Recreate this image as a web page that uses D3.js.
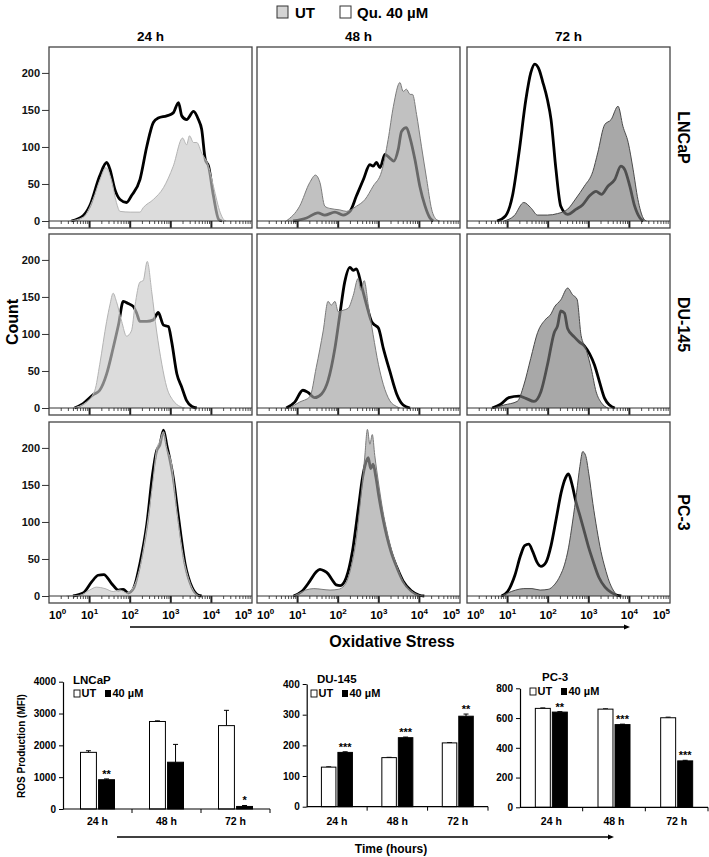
<!DOCTYPE html>
<html>
<head>
<meta charset="utf-8">
<script src="https://cdn.jsdelivr.net/npm/d3@7"></script>
<style>
  body { margin: 0; background: #fff; }
  text { font-family: 'Liberation Sans', Arial, sans-serif; }
</style>
</head>
<body>
<svg id="figure"></svg>
<script>
var width = 709;
var height = 857;

// ---------- data ----------
var timepoints = ["24 h", "48 h", "72 h"];
var cellLines = ["LNCaP", "DU-145", "PC-3"];
var countTicks = [0, 50, 100, 150, 200];
var decades = [0, 1, 2, 3, 4, 5];

// histogram curves: [log10 intensity, count]
var utLNCaP24 = [[0.51,0],[0.84,5],[1.09,30],[1.25,55],[1.40,72],[1.54,55],[1.66,25],[1.75,13],[2.0,12],[2.24,12],[2.32,18],[2.57,29],[2.82,45],[3.06,74],[3.29,112],[3.39,103],[3.46,115],[3.56,106],[3.64,106],[3.76,92],[3.93,74],[4.05,47],[4.22,11],[4.30,2],[4.36,0]];
var quLNCaP24 = [[0.55,0],[0.84,7],[1.00,20],[1.25,61],[1.42,79],[1.50,70],[1.62,43],[1.75,29],[1.91,25],[2.03,34],[2.24,56],[2.41,101],[2.57,133],[2.69,139],[2.90,142],[3.06,146],[3.19,160],[3.27,142],[3.39,137],[3.56,148],[3.68,137],[3.76,124],[3.85,83],[3.93,74],[4.05,34],[4.18,2],[4.26,0]];
var utLNCaP48 = [[0.72,0],[1.05,20],[1.30,52],[1.44,62],[1.55,52],[1.67,20],[1.79,17],[2.04,15],[2.20,13],[2.45,20],[2.66,29],[2.86,47],[3.07,67],[3.23,110],[3.36,155],[3.52,187],[3.60,175],[3.68,178],[3.77,171],[3.83,171],[3.93,144],[4.05,101],[4.18,56],[4.30,16],[4.42,2],[4.50,0]];
var quLNCaP48 = [[0.89,0],[1.22,4],[1.50,11],[1.67,8],[1.92,12],[2.12,8],[2.29,13],[2.45,34],[2.62,56],[2.78,76],[2.86,74],[2.94,79],[3.03,72],[3.15,90],[3.27,85],[3.37,81],[3.48,97],[3.56,121],[3.68,126],[3.77,112],[3.89,83],[4.01,47],[4.14,20],[4.26,4],[4.34,0]];
var utLNCaP72 = [[0.91,0],[1.16,7],[1.40,25],[1.57,18],[1.74,8],[1.98,8],[2.23,10],[2.48,16],[2.69,31],[2.89,47],[3.10,67],[3.22,92],[3.39,130],[3.55,137],[3.72,155],[3.84,128],[3.97,106],[4.09,70],[4.21,29],[4.34,4],[4.42,0]];
var quLNCaP72 = [[0.74,0],[0.95,7],[1.12,34],[1.28,92],[1.45,164],[1.57,200],[1.67,212],[1.78,204],[1.86,189],[1.98,164],[2.07,137],[2.19,70],[2.31,20],[2.48,9],[2.69,16],[2.85,22],[3.02,34],[3.18,40],[3.31,36],[3.47,47],[3.64,56],[3.79,74],[3.88,70],[4.01,47],[4.13,20],[4.26,4],[4.34,0]];

var utDU24 = [[0.59,0],[0.92,8],[1.13,24],[1.25,59],[1.42,117],[1.50,139],[1.58,155],[1.66,144],[1.79,117],[1.91,97],[2.03,104],[2.12,139],[2.24,170],[2.32,172],[2.42,198],[2.53,157],[2.65,104],[2.78,59],[2.90,28],[3.06,10],[3.23,2],[3.35,0]];
var quDU24 = [[0.63,0],[0.84,6],[1.09,18],[1.25,24],[1.42,46],[1.58,81],[1.71,112],[1.83,144],[1.95,141],[2.08,137],[2.16,128],[2.24,117],[2.41,117],[2.57,119],[2.69,129],[2.82,112],[2.94,110],[3.02,90],[3.15,46],[3.27,28],[3.39,10],[3.52,2],[3.64,0]];
var utDU48 = [[0.81,0],[1.05,8],[1.30,15],[1.46,55],[1.63,104],[1.75,144],[1.83,139],[1.92,144],[2.00,130],[2.12,132],[2.25,135],[2.37,152],[2.49,175],[2.56,159],[2.64,172],[2.74,139],[2.86,99],[2.99,59],[3.11,32],[3.27,10],[3.44,2],[3.52,0]];
var quDU48 = [[0.72,0],[0.93,8],[1.13,24],[1.26,21],[1.42,14],[1.59,19],[1.75,37],[1.92,81],[2.04,126],[2.16,170],[2.29,190],[2.37,186],[2.45,188],[2.57,166],[2.70,139],[2.82,117],[2.90,112],[2.99,108],[3.11,81],[3.27,50],[3.44,19],[3.60,4],[3.77,0]];
var utDU72 = [[0.66,0],[0.91,4],[1.24,9],[1.40,31],[1.57,67],[1.74,102],[1.94,120],[2.07,127],[2.15,136],[2.31,146],[2.48,162],[2.60,153],[2.71,147],[2.81,98],[2.93,80],[3.06,53],[3.18,22],[3.31,7],[3.47,0]];
var quDU72 = [[0.62,0],[0.83,5],[1.03,14],[1.28,16],[1.45,13],[1.65,9],[1.82,22],[1.98,58],[2.15,102],[2.23,111],[2.31,131],[2.40,128],[2.48,107],[2.64,96],[2.77,89],[2.89,84],[3.02,73],[3.14,58],[3.26,36],[3.39,13],[3.51,4],[3.64,0]];

var utPC24 = [[0.43,0],[0.76,1],[1.00,8],[1.17,12],[1.38,10],[1.58,6],[1.75,8],[1.91,4],[2.08,12],[2.24,39],[2.41,93],[2.57,160],[2.65,198],[2.73,209],[2.82,222],[2.90,200],[3.02,178],[3.15,115],[3.31,53],[3.48,17],[3.64,2],[3.72,0]];
var quPC24 = [[0.59,0],[0.84,4],[1.05,19],[1.21,28],[1.35,29],[1.54,17],[1.71,8],[1.83,9],[1.95,4],[2.08,10],[2.24,44],[2.41,97],[2.55,164],[2.65,196],[2.73,204],[2.82,224],[2.90,204],[3.06,160],[3.19,106],[3.35,44],[3.52,12],[3.68,1],[3.76,0]];
var utPC48 = [[0.9,0],[1.05,4],[1.2,8],[1.4,10],[1.6,9],[1.8,8],[2.0,9],[2.15,14],[2.3,35],[2.45,80],[2.55,130],[2.65,185],[2.72,225],[2.78,205],[2.84,218],[2.9,190],[3.0,150],[3.1,115],[3.2,88],[3.3,65],[3.45,40],[3.6,20],[3.8,7],[4.0,1],[4.1,0]];
var quPC48 = [[0.9,0],[1.1,6],[1.3,20],[1.45,32],[1.55,36],[1.65,34],[1.75,30],[1.85,22],[1.95,15],[2.05,14],[2.2,25],[2.35,60],[2.5,120],[2.6,160],[2.68,180],[2.74,187],[2.8,172],[2.86,178],[2.93,160],[3.0,135],[3.1,105],[3.2,80],[3.3,60],[3.45,38],[3.6,20],[3.8,7],[4.0,1],[4.12,0]];
var utPC72 = [[0.85,0],[1.0,4],[1.2,8],[1.4,10],[1.6,10],[1.8,8],[2.0,9],[2.15,15],[2.3,28],[2.4,42],[2.5,65],[2.6,100],[2.7,140],[2.78,175],[2.85,195],[2.92,190],[3.0,165],[3.1,125],[3.2,90],[3.3,60],[3.4,38],[3.5,20],[3.6,8],[3.72,0]];
var quPC72 = [[0.85,0],[1.0,6],[1.18,28],[1.32,55],[1.42,68],[1.52,70],[1.62,60],[1.72,46],[1.82,40],[1.95,46],[2.07,68],[2.2,105],[2.32,140],[2.43,160],[2.5,165],[2.58,152],[2.68,128],[2.8,105],[2.9,85],[3.0,65],[3.1,48],[3.25,25],[3.4,12],[3.55,5],[3.7,1],[3.8,0]];

// bar charts (MFI)
var barGroups = ["UT", "40 µM"];
var lncapUT = [1780, 2750, 2620];   var lncapUTsd = [50, 20, 480];
var lncapQu = [920, 1470, 80];      var lncapQusd = [25, 560, 30];
var lncapStars = ["**", "", "*"];
var duUT = [129, 160, 208];         var duUTsd = [1, 1, 1];
var duQu = [177, 225, 295];         var duQusd = [2, 2, 7];
var duStars = ["***", "***", "**"];
var pcUT = [665, 660, 602];         var pcUTsd = [3, 2, 4];
var pcQu = [640, 556, 312];         var pcQusd = [3, 3, 4];
var pcStars = ["**", "***", "***"];

// ---------- layout ----------
var svg = d3.select('#figure').attr('width', width).attr('height', height);

var panelX = [49, 257, 467], panelW = 203;
var rowY = [47, 234, 422], panelH = 181, stripH = 7;
var fills = ["#c9c9c9", "#a0a0a0", "#7a7a7a"];
var edges = ["#b4b4b4", "#7c7c7c", "#4a4a4a"];

var hist = [
  [[utLNCaP24, quLNCaP24], [utLNCaP48, quLNCaP48], [utLNCaP72, quLNCaP72]],
  [[utDU24, quDU24], [utDU48, quDU48], [utDU72, quDU72]],
  [[utPC24, quPC24], [utPC48, quPC48], [utPC72, quPC72]]
];

// top legend
var leg = svg.append('g').attr('font-size', 15).attr('font-weight', 'bold');
leg.append('rect').attr('x', 277).attr('y', 6).attr('width', 11).attr('height', 12)
  .attr('fill', '#d4d4d4').attr('stroke', '#333').attr('stroke-width', 1);
leg.append('text').attr('x', 295).attr('y', 18).text('UT');
leg.append('rect').attr('x', 340).attr('y', 6).attr('width', 11).attr('height', 12)
  .attr('fill', '#fff').attr('stroke', '#333').attr('stroke-width', 1);
leg.append('text').attr('x', 357).attr('y', 18).text('Qu. 40 µM');

// column titles
timepoints.forEach(function(t, c) {
  svg.append('text').attr('x', panelX[c] + panelW / 2).attr('y', 41)
    .attr('text-anchor', 'middle').attr('font-size', 13.5).attr('font-weight', 'bold').text(t);
});

cellLines.forEach(function(cl, r) {
  timepoints.forEach(function(tp, c) {
    var x0 = panelX[c], y0 = rowY[r];
    var base = y0 + panelH - stripH;
    var x = d3.scaleLog().domain([1, 1e5]).range([x0, x0 + panelW]);
    var y = d3.scaleLinear().domain([0, 235]).range([base, y0]);
    var px = function(d) { return x(Math.pow(10, d[0])); };
    var line = d3.line().x(px).y(function(d) { return y(d[1]); }).curve(d3.curveMonotoneX);
    var area = d3.area().x(px).y0(base).y1(function(d) { return y(d[1]); }).curve(d3.curveMonotoneX);
    var g = svg.append('g');
    var ut = hist[r][c][0], qu = hist[r][c][1];

    // treated line below, untreated fill on top (tints the line)
    g.append('path').attr('d', line(qu)).attr('fill', 'none').attr('stroke', '#000')
      .attr('stroke-width', 2.8).attr('stroke-linejoin', 'round');
    g.append('path').attr('d', area(ut)).attr('fill', fills[c]).attr('fill-opacity', 0.65);
    g.append('path').attr('d', line(ut)).attr('fill', 'none').attr('stroke', edges[c]).attr('stroke-width', 1);

    // log tick strip
    g.append('line').attr('x1', x0).attr('x2', x0 + panelW).attr('y1', base).attr('y2', base)
      .attr('stroke', '#333').attr('stroke-width', 1);
    x.ticks().forEach(function(v) {
      var e = Math.log10(v);
      var major = Math.abs(e - Math.round(e)) < 1e-9;
      if (v <= 1 || v >= 1e5) return;
      g.append('line').attr('x1', x(v)).attr('x2', x(v)).attr('y1', base)
        .attr('y2', base + (major ? stripH : 3))
        .attr('stroke', '#222').attr('stroke-width', major ? 2 : 0.8);
    });

    // frame
    g.append('rect').attr('x', x0).attr('y', y0).attr('width', panelW).attr('height', panelH)
      .attr('fill', 'none').attr('stroke', '#444').attr('stroke-width', 1.3);

    if (c === 0) {
      svg.append('g').attr('transform', 'translate(' + x0 + ',0)')
        .call(d3.axisLeft(y).tickValues(countTicks).tickSize(7).tickPadding(2))
        .call(function(a) { a.select('.domain').remove(); })
        .call(function(a) {
          a.selectAll('text').attr('font-size', 11).attr('font-weight', 'bold').attr('fill', '#111')
            .style('font-family', "'Liberation Sans', Arial, sans-serif");
          a.selectAll('line').attr('stroke', '#333');
        });
    }

    if (r === 2) {
      decades.forEach(function(e, i) {
        var t = svg.append('text').attr('x', x(Math.pow(10, e))).attr('y', 619)
          .attr('font-size', 11.5).attr('font-weight', 'bold')
          .attr('text-anchor', i === 0 ? 'start' : (i === decades.length - 1 ? 'end' : 'middle'));
        t.append('tspan').text('10');
        t.append('tspan').attr('dy', -5).attr('font-size', 8).text(e);
      });
    }
  });

  svg.append('text')
    .attr('transform', 'translate(683,' + (rowY[r] + panelH / 2) + ') rotate(90)')
    .attr('text-anchor', 'middle').attr('dominant-baseline', 'central')
    .attr('font-size', 16).attr('font-weight', 'bold').text(cl);
});

// y label
svg.append('text').attr('transform', 'translate(12,322) rotate(-90)')
  .attr('text-anchor', 'middle').attr('dominant-baseline', 'central')
  .attr('font-size', 16).attr('font-weight', 'bold').text('Count');

// arrows
function arrow(x1, x2, yy) {
  svg.append('line').attr('x1', x1).attr('x2', x2 - 4).attr('y1', yy).attr('y2', yy)
    .attr('stroke', '#000').attr('stroke-width', 1.3);
  svg.append('path').attr('d', 'M' + x2 + ',' + yy + 'l-6,-2.5v5z').attr('fill', '#000');
}
arrow(130, 630, 627);
svg.append('text').attr('x', 392).attr('y', 647).attr('text-anchor', 'middle')
  .attr('font-size', 16).attr('font-weight', 'bold').text('Oxidative Stress');

// ---------- bar charts ----------
var charts = [
  { title: "LNCaP", ut: lncapUT, utSd: lncapUTsd, qu: lncapQu, quSd: lncapQusd, stars: lncapStars, max: 4000, step: 1000 },
  { title: "DU-145", ut: duUT, utSd: duUTsd, qu: duQu, quSd: duQusd, stars: duStars, max: 400, step: 100 },
  { title: "PC-3", ut: pcUT, utSd: pcUTsd, qu: pcQu, quSd: pcQusd, stars: pcStars, max: 800, step: 200 }
];
var chartLayout = [
  { x0: 63, x1: 270, top: 681.7, zero: 809, group: 34, titleX: 73, titleY: 684, legX: 74, legY: 697 },
  { x0: 306.7, x1: 488, top: 684, zero: 806.7, group: 31, titleX: 317, titleY: 683, legX: 311, legY: 697 },
  { x0: 520, x1: 708, top: 688.3, zero: 807.3, group: 32, titleX: 542, titleY: 681, legX: 530, legY: 695 }
];

charts.forEach(function(ch, i) {
  var L = chartLayout[i];
  var x = d3.scaleBand().domain(timepoints).range([L.x0, L.x1]);
  var sub = d3.scaleBand().domain(barGroups).range([0, L.group]).paddingInner(0.12);
  var y = d3.scaleLinear().domain([0, ch.max]).range([L.zero, L.top]);
  var g = svg.append('g');
  var off = (x.bandwidth() - L.group) / 2;

  var rows = [];
  timepoints.forEach(function(t, k) {
    rows.push({ t: t, grp: "UT", v: ch.ut[k], sd: ch.utSd[k], star: "" });
    rows.push({ t: t, grp: "40 µM", v: ch.qu[k], sd: ch.quSd[k], star: ch.stars[k] });
  });

  // error bars
  rows.forEach(function(d) {
    var cx = x(d.t) + off + sub(d.grp) + sub.bandwidth() / 2;
    g.append('line').attr('x1', cx).attr('x2', cx).attr('y1', y(d.v)).attr('y2', y(d.v + d.sd))
      .attr('stroke', '#000').attr('stroke-width', 1);
    g.append('line').attr('x1', cx - 2.5).attr('x2', cx + 2.5).attr('y1', y(d.v + d.sd)).attr('y2', y(d.v + d.sd))
      .attr('stroke', '#000').attr('stroke-width', 1);
    if (d.star) {
      g.append('text').attr('x', cx).attr('y', y(d.v + d.sd) - 1).attr('text-anchor', 'middle')
        .attr('font-size', 11).attr('font-weight', 'bold').text(d.star);
    }
  });

  g.selectAll('rect.bar').data(rows).join('rect')
    .attr('class', 'bar')
    .attr('x', function(d) { return x(d.t) + off + sub(d.grp); })
    .attr('y', function(d) { return y(d.v); })
    .attr('width', sub.bandwidth())
    .attr('height', function(d) { return y(0) - y(d.v); })
    .attr('fill', function(d) { return d.grp === "UT" ? '#fff' : '#000'; })
    .attr('stroke', '#000').attr('stroke-width', 1);

  // y axis
  svg.append('g').attr('transform', 'translate(' + L.x0 + ',0)')
    .call(d3.axisLeft(y).tickValues(d3.range(0, ch.max + 1, ch.step)).tickFormat(d3.format('d'))
      .tickSize(4).tickSizeOuter(0).tickPadding(3))
    .call(function(a) {
      a.selectAll('text').attr('font-size', 10).attr('font-weight', 'bold').attr('fill', '#000')
        .style('font-family', "'Liberation Sans', Arial, sans-serif");
      a.selectAll('line').attr('stroke', '#000');
      a.select('.domain').attr('stroke', '#000').attr('stroke-width', 1.2);
    });

  // x axis
  g.append('line').attr('x1', L.x0).attr('x2', L.x1).attr('y1', L.zero).attr('y2', L.zero)
    .attr('stroke', '#000').attr('stroke-width', 1.2);
  timepoints.forEach(function(t, k) {
    var bx = x(t) + x.bandwidth();
    g.append('line').attr('x1', bx).attr('x2', bx).attr('y1', L.zero).attr('y2', L.zero + 4)
      .attr('stroke', '#000').attr('stroke-width', 1);
    g.append('text').attr('x', x(t) + x.bandwidth() / 2).attr('y', 825)
      .attr('text-anchor', 'middle').attr('font-size', 10.5).attr('font-weight', 'bold').text(t);
  });

  // title + legend
  g.append('text').attr('x', L.titleX).attr('y', L.titleY).attr('font-size', 11.5)
    .attr('font-weight', 'bold').text(ch.title);
  g.append('rect').attr('x', L.legX).attr('y', L.legY - 7).attr('width', 6).attr('height', 7)
    .attr('fill', '#fff').attr('stroke', '#000').attr('stroke-width', 0.9);
  g.append('text').attr('x', L.legX + 7.5).attr('y', L.legY).attr('font-size', 11)
    .attr('font-weight', 'bold').text(barGroups[0]);
  g.append('rect').attr('x', L.legX + 31).attr('y', L.legY - 7).attr('width', 6).attr('height', 7)
    .attr('fill', '#000');
  g.append('text').attr('x', L.legX + 38.5).attr('y', L.legY).attr('font-size', 11)
    .attr('font-weight', 'bold').text(barGroups[1]);
});

svg.append('text').attr('transform', 'translate(21,746) rotate(-90)')
  .attr('text-anchor', 'middle').attr('dominant-baseline', 'central')
  .attr('font-size', 10).attr('font-weight', 'bold').text('ROS Production (MFI)');

arrow(117, 614, 837);
svg.append('text').attr('x', 391).attr('y', 853).attr('text-anchor', 'middle')
  .attr('font-size', 12).attr('font-weight', 'bold').text('Time (hours)');
</script>
</body>
</html>
